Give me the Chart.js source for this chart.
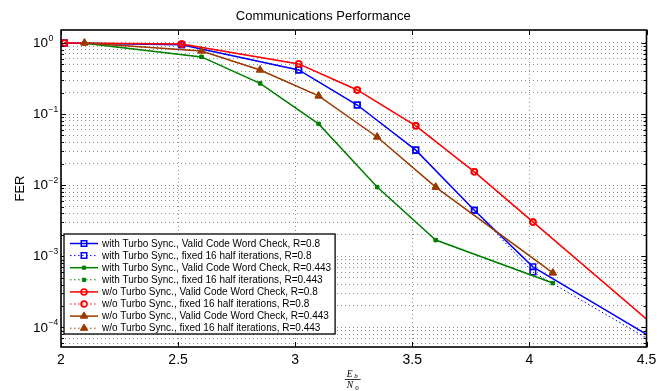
<!DOCTYPE html>
<html>
<head>
<meta charset="utf-8">
<script src="https://cdn.jsdelivr.net/npm/chart.js@4.4.1/dist/chart.umd.min.js"></script>
<style>
  html, body { margin: 0; padding: 0; background: #fff; }
</style>
</head>
<body>
<canvas id="chartFer" width="667" height="391"></canvas>
<script>
// Eb/N0 points (two sets of SNR points, one per code rate)
const ebnoR08 = [2.015, 2.515, 3.015, 3.265, 3.515, 3.765, 4.015, 5.0];
const ebnoR0443 = [2.1, 2.6, 2.85, 3.1, 3.35, 3.6, 4.1];

// FER values
const ferSyncValidR08 = [1.0, 0.94, 0.417, 0.134, 0.0311, 0.00445, 7.1e-4, 8.4e-6];
const ferSyncFixedR08 = [1.0, 0.94, 0.417, 0.134, 0.0311, 0.00445, 6.0e-4, 7.8e-6];
const ferSyncValidR0443 = [0.99, 0.636, 0.27, 0.0726, 0.0094, 1.69e-3, 4.2e-4];
const ferSyncFixedR0443 = [0.99, 0.636, 0.27, 0.0726, 0.0094, 1.69e-3, 4.2e-4];
const ferNoSyncValidR08 = [1.0, 0.968, 0.507, 0.218, 0.0682, 0.0154, 3.04e-3, 5.1e-6];
const ferNoSyncFixedR08 = [1.0, 0.968, 0.507, 0.218, 0.0682, 0.0154, 3.04e-3, 5.1e-6];
const ferNoSyncValidR0443 = [1.0, 0.772, 0.417, 0.18, 0.0476, 0.0094, 5.84e-4];
const ferNoSyncFixedR0443 = [1.0, 0.772, 0.417, 0.18, 0.0476, 0.0094, 5.84e-4];

const seriesLabels = [
    'with Turbo Sync., Valid Code Word Check, R=0.8',
    'with Turbo Sync., fixed 16 half iterations, R=0.8',
    'with Turbo Sync., Valid Code Word Check, R=0.443',
    'with Turbo Sync., fixed 16 half iterations, R=0.443',
    'w/o Turbo Sync., Valid Code Word Check, R=0.8',
    'w/o Turbo Sync., fixed 16 half iterations, R=0.8',
    'w/o Turbo Sync., Valid Code Word Check, R=0.443',
    'w/o Turbo Sync., fixed 16 half iterations, R=0.443'
];

const xTicks = [2, 2.5, 3, 3.5, 4, 4.5];
const yDecadeExps = [0, -1, -2, -3, -4];

const FONT = '"Liberation Sans", Arial, Helvetica, sans-serif';
const BLUE = '#0000ff', GREEN = '#008000', RED = '#ff0000', BROWN = '#9c3a00';

function pts(xs, ys) {
    return ys.map((v, i) => ({ x: xs[i], y: v }));
}

function series(i, xs, ys, color, dotted, marker) {
    return {
        label: seriesLabels[i],
        data: pts(xs, ys),
        borderColor: color,
        borderWidth: dotted ? 1 : 1.5,
        borderDash: dotted ? [1.5, 2.5] : [],
        pointStyle: marker.style,
        pointRadius: marker.r,
        pointBorderWidth: marker.bw,
        pointBorderColor: color,
        pointBackgroundColor: marker.fill ? color : 'rgba(0,0,0,0)',
        fill: false,
        tension: 0,
        order: -i,
        clip: { left: 6, top: 6, right: 0, bottom: 0 }
    };
}

const mSquare = { style: 'rect', r: 3.9, bw: 1.5, fill: false };
const mDot = { style: 'rect', r: 2.3, bw: 1, fill: true };
const mCircle = { style: 'circle', r: 2.9, bw: 1.7, fill: false };
const mTri = { style: 'triangle', r: 4.2, bw: 1, fill: true };

const datasets = [
    series(0, ebnoR08, ferSyncValidR08, BLUE, false, mSquare),
    series(1, ebnoR08, ferSyncFixedR08, BLUE, true, mSquare),
    series(2, ebnoR0443, ferSyncValidR0443, GREEN, false, mDot),
    series(3, ebnoR0443, ferSyncFixedR0443, GREEN, true, mDot),
    series(4, ebnoR08, ferNoSyncValidR08, RED, false, mCircle),
    series(5, ebnoR08, ferNoSyncFixedR08, RED, true, mCircle),
    series(6, ebnoR0443, ferNoSyncValidR0443, BROWN, false, mTri),
    series(7, ebnoR0443, ferNoSyncFixedR0443, BROWN, true, mTri)
];

// axes box, inner ticks, y labels with exponents, axis titles, legend box
const matlabFrame = {
    id: 'matlabFrame',
    afterDraw(chart) {
        const ctx = chart.ctx;
        const a = chart.chartArea;
        const x = chart.scales.x, y = chart.scales.y;
        ctx.save();

        // inner tick marks
        ctx.strokeStyle = '#000';
        ctx.lineWidth = 1;
        ctx.beginPath();
        xTicks.forEach(v => {
            const px = Math.round(x.getPixelForValue(v)) + 0.5;
            ctx.moveTo(px, a.bottom); ctx.lineTo(px, a.bottom - 5);
            ctx.moveTo(px, a.top); ctx.lineTo(px, a.top + 5);
        });
        y.ticks.forEach(t => {
            const py = Math.round(y.getPixelForValue(t.value)) + 0.5;
            const lg = Math.log10(t.value);
            const len = Math.abs(lg - Math.round(lg)) < 1e-9 ? 5 : 3;
            ctx.moveTo(a.left, py); ctx.lineTo(a.left + len, py);
            ctx.moveTo(a.right, py); ctx.lineTo(a.right - len, py);
        });
        ctx.stroke();

        // axes box
        ctx.lineWidth = 1.6;
        ctx.strokeRect(a.left, a.top, a.right - a.left, a.bottom - a.top);

        // y tick labels 10^k
        ctx.fillStyle = '#000';
        ctx.textAlign = 'left';
        ctx.textBaseline = 'middle';
        yDecadeExps.forEach(k => {
            const py = y.getPixelForValue(Math.pow(10, k));
            ctx.font = '13.5px ' + FONT;
            ctx.fillText('10', 33, py + 0.5);
            const w = ctx.measureText('10').width;
            ctx.font = '8.5px ' + FONT;
            ctx.fillText(k === 0 ? '0' : '\u2212' + (-k), 33 + w + 0.5, py - 4.5);
        });

        // y title
        ctx.save();
        ctx.translate(20, (a.top + a.bottom) / 2);
        ctx.rotate(-Math.PI / 2);
        ctx.textAlign = 'center';
        ctx.font = '13px ' + FONT;
        ctx.fillText('FER', 0, 0);
        ctx.restore();

        // x title: Eb / N0 as a fraction
        const cx = (a.left + a.right) / 2;
        ctx.textAlign = 'left';
        ctx.font = 'italic 9.5px "Liberation Serif", "DejaVu Serif", serif';
        ctx.fillText('E', cx - 7, 374);
        ctx.fillText('N', cx - 7, 385.5);
        ctx.font = 'italic 7px "Liberation Serif", "DejaVu Serif", serif';
        ctx.fillText('b', cx + 0.5, 376.5);
        ctx.font = '7px "Liberation Serif", "DejaVu Serif", serif';
        ctx.fillText('0', cx + 1.5, 388);
        ctx.lineWidth = 0.8;
        ctx.beginPath();
        ctx.moveTo(cx - 9, 379.5); ctx.lineTo(cx + 7, 379.5);
        ctx.stroke();

        // legend
        ctx.font = '10px ' + FONT;
        let maxW = 0;
        seriesLabels.forEach(s => { maxW = Math.max(maxW, ctx.measureText(s).width); });
        const bx = 64, by = 234, textX = 102, rowH = 12.1;
        const bw = textX - bx + maxW + 4, bh = 100;
        ctx.fillStyle = '#fff';
        ctx.fillRect(bx, by, bw, bh);
        ctx.strokeStyle = '#000';
        ctx.lineWidth = 1.3;
        ctx.strokeRect(bx, by, bw, bh);
        datasets.forEach((ds, i) => {
            const ry = by + 9.5 + i * rowH;
            ctx.strokeStyle = ds.borderColor;
            ctx.lineWidth = ds.borderWidth;
            ctx.setLineDash(ds.borderDash);
            ctx.beginPath();
            ctx.moveTo(70, ry); ctx.lineTo(98, ry);
            ctx.stroke();
            ctx.setLineDash([]);
            ctx.fillStyle = ds.pointBackgroundColor;
            ctx.lineWidth = ds.pointBorderWidth;
            Chart.helpers.drawPoint(ctx, {
                pointStyle: ds.pointStyle,
                radius: ds.pointRadius,
                rotation: 0,
                borderWidth: ds.pointBorderWidth
            }, 84, ry);
            ctx.fillStyle = '#000';
            ctx.textBaseline = 'middle';
            ctx.fillText(ds.label, textX, ry + 0.5);
        });

        ctx.restore();
    }
};

new Chart(document.getElementById('chartFer'), {
    type: 'line',
    data: { datasets: datasets },
    options: {
        responsive: false,
        animation: false,
        devicePixelRatio: 1,
        layout: { padding: { left: 0, right: 20.5, top: 0, bottom: 0 } },
        plugins: {
            legend: { display: false },
            tooltip: { enabled: false },
            title: {
                display: true,
                text: 'Communications Performance',
                color: '#000',
                font: { family: FONT, size: 13, weight: 'normal' },
                padding: { top: 8.5, bottom: 5.9 }
            }
        },
        scales: {
            x: {
                type: 'linear',
                min: 2,
                max: 4.5,
                afterFit(scale) { scale.height = 44; },
                afterBuildTicks(scale) { scale.ticks = xTicks.map(v => ({ value: v })); },
                grid: { color: '#8c8c8c', lineWidth: 1, drawTicks: false },
                border: { display: false, dash: [1, 3] },
                ticks: {
                    color: '#000',
                    font: { family: FONT, size: 14 },
                    padding: 5,
                    maxRotation: 0,
                    autoSkip: false,
                    callback: v => String(v)
                }
            },
            y: {
                type: 'logarithmic',
                min: 5.3e-5,
                max: 1.52,
                afterFit(scale) { scale.width = 61; },
                afterBuildTicks(scale) {
                    const list = [];
                    for (let k = -5; k <= 0; k++) {
                        for (let m = 1; m <= 9; m++) {
                            const v = m * Math.pow(10, k);
                            if (v >= scale.min && v <= scale.max) list.push({ value: v });
                        }
                    }
                    scale.ticks = list;
                },
                grid: { color: '#8c8c8c', lineWidth: 1, drawTicks: false },
                border: { display: false, dash: [1, 3] },
                ticks: { display: false }
            }
        }
    },
    plugins: [matlabFrame]
});
</script>
</body>
</html>
